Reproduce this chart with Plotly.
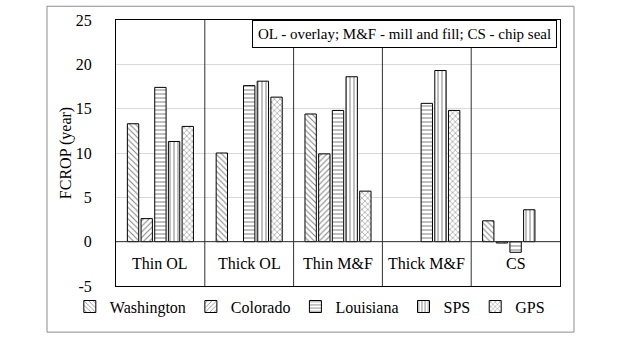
import plotly.graph_objects as go

categories = ["Thin OL", "Thick OL", "Thin M&F", "Thick M&F", "CS"]
washington = [13.3, 10.0, 14.4, None, 2.35]
colorado = [2.6, None, 9.9, None, -0.15]
louisiana = [17.4, 17.6, 14.8, 15.6, -1.2]
sps = [11.3, 18.1, 18.6, 19.3, 3.6]
gps = [13.0, 16.3, 5.7, 14.8, None]
y_ticks = [-5, 0, 5, 10, 15, 20, 25]
y_tick_labels = ["-5", "0", "5", "10", "15", "20", "25"]

series = [
    ("Washington", washington, "\\"),
    ("Colorado", colorado, "/"),
    ("Louisiana", louisiana, "-"),
    ("SPS", sps, "|"),
    ("GPS", gps, "x"),
]

FONT = "Liberation Serif"
xs = list(range(len(categories)))

fig = go.Figure()
for name, vals, shape in series:
    fig.add_trace(go.Bar(
        x=xs, y=vals, name=name,
        marker=dict(color="white",
                    line=dict(color="black", width=1),
                    pattern=dict(shape=shape, fgcolor="black", bgcolor="white",
                                 size=4, solidity=0.25)),
    ))

shapes = []
for i in range(1, len(categories)):
    shapes.append(dict(type="line", xref="x", yref="y", x0=i - 0.5, x1=i - 0.5,
                       y0=-5, y1=25, line=dict(color="#303030", width=1)))
shapes.append(dict(type="line", xref="paper", yref="y", x0=0, x1=1, y0=0, y1=0,
                   line=dict(color="#303030", width=1)))
# outer chart border
shapes.append(dict(type="rect", xref="paper", yref="paper",
                   x0=-0.1554, x1=1.0315, y0=-0.1734, y1=1.0517,
                   line=dict(color="#8c8c8c", width=1), layer="below"))

annotations = []
for i, c in enumerate(categories):
    annotations.append(dict(x=i, y=-2.5, xref="x", yref="y", text=c, showarrow=False,
                            font=dict(family=FONT, size=16, color="black")))
annotations.append(dict(x=0.993, y=1.0, xref="paper", yref="paper", xanchor="right",
                        yanchor="top",
                        text="OL - overlay; M&F - mill and fill; CS - chip seal",
                        showarrow=False, bgcolor="white", bordercolor="black",
                        borderwidth=1, borderpad=5,
                        font=dict(family=FONT, size=15, color="black")))

fig.update_layout(
    width=624, height=338,
    margin=dict(l=116, r=64, t=15, b=52),
    paper_bgcolor="white", plot_bgcolor="white",
    barmode="group", bargap=0.23, bargroupgap=0.17,
    font=dict(family=FONT, size=15, color="black"),
    shapes=shapes, annotations=annotations,
    legend=dict(orientation="h", x=-0.104, xanchor="left",
                y=-0.0775, yanchor="middle",
                bgcolor="rgba(0,0,0,0)",
                font=dict(family=FONT, size=16), itemwidth=30,
                traceorder="normal"),
    xaxis=dict(range=[-0.5, 4.5], showticklabels=False, showgrid=False,
               zeroline=False, showline=True, mirror=True, linecolor="black",
               linewidth=1, ticks=""),
    yaxis=dict(range=[-5, 25], tickvals=y_ticks, ticktext=y_tick_labels,
               showgrid=True, gridcolor="#d9d9d9",
               zeroline=False, showline=True, mirror=True, linecolor="black",
               linewidth=1, ticks="", ticklabelstandoff=20,
               title=dict(text="FCROP (year)", font=dict(family=FONT, size=16), standoff=0),
               tickfont=dict(family=FONT, size=16)),
)

fig.write_html("out.html")
